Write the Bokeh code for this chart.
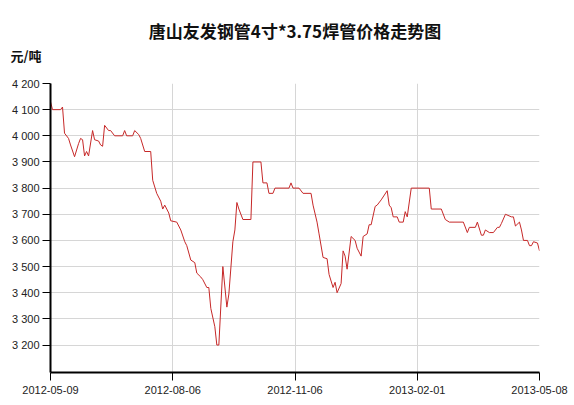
from bokeh.plotting import figure
from bokeh.models import Range1d, FixedTicker, Title
from bokeh.embed import file_html
from bokeh.resources import INLINE

# ---- data ----
day_index = [0,1,5,6,7,9,10,12,14,15,
             16,17,18,19,21,22,24,25,26,27,
             29,30,32,36,37,38,41,42,44,45,
             47,50,51,53,55,56,57,59,60,63,
             65,67,68,70,72,73,75,76,78,79,
             80,82,83,84,86,88,89,91,92,93,
             94,96,100,101,105,106,108,109,111,112,
             119,120,121,124,126,130,131,133,134,136,
             138,139,141,142,143,145,146,147,148,150,
             152,153,155,156,158,159,160,162,163,165,
             168,169,170,171,173,174,176,177,178,180,
             189,190,195,197,199,206,208,209,212,213,
             215,216,217,219,221,223,224,225,227,230,
             231,232,234,235,236,238,239,240,241,243,
             244]
price = [4130,4100,4100,4110,4010,3990,3965,3920,3970,3990,
         3985,3923,3940,3923,4020,3985,3980,3965,3960,4040,
         4020,4020,4000,4000,4020,4000,4000,4020,4005,3990,
         3940,3940,3830,3780,3750,3720,3735,3705,3675,3670,
         3640,3595,3580,3525,3515,3475,3460,3450,3420,3420,
         3340,3270,3200,3200,3500,3345,3395,3595,3640,3745,
         3720,3680,3680,3900,3900,3820,3820,3780,3780,3800,
         3800,3820,3800,3800,3780,3780,3735,3670,3625,3535,
         3530,3470,3420,3440,3400,3435,3560,3540,3490,3615,
         3600,3570,3540,3615,3625,3660,3660,3730,3735,3755,
         3790,3735,3725,3690,3690,3670,3670,3710,3690,3800,
         3800,3720,3720,3680,3670,3670,3630,3650,3650,3670,
         3620,3620,3640,3630,3630,3650,3650,3665,3700,3690,
         3690,3655,3670,3640,3600,3600,3580,3580,3595,3590,
         3560]

x_tick_pos = [0, 61, 122, 183, 244]
x_tick_labels = ["2012-05-09", "2012-08-06", "2012-11-06", "2013-02-01", "2013-05-08"]
y_ticks = [3200, 3300, 3400, 3500, 3600, 3700, 3800, 3900, 4000, 4100, 4200]
y_tick_labels = ["3 200", "3 300", "3 400", "3 500", "3 600", "3 700",
                 "3 800", "3 900", "4 000", "4 100", "4 200"]

title_text = "唐山友发钢管4寸*3.75焊管价格走势图"
unit_text = "元/吨"

p = figure(width=574, height=405, output_backend="svg", toolbar_location=None,
           x_range=Range1d(0, 244), y_range=Range1d(3095, 4200),
           min_border_left=50, min_border_right=35, min_border_bottom=33, min_border_top=0,
           title=None)
p.background_fill_color = "white"
p.border_fill_color = "white"
p.outline_line_color = None

# panels stacked outward from the plot frame
p.add_layout(Title(text=" ", text_font_size="9px", standoff=6), "above")
p.add_layout(Title(text=unit_text, align="left", text_font="Noto Sans CJK SC",
                   text_font_size="13px", text_font_style="bold", text_color="#111111",
                   offset=-40, standoff=2), "above")
p.add_layout(Title(text=title_text, align="center", text_font="Noto Sans CJK SC",
                   text_font_size="17px", text_font_style="bold", text_color="#111111",
                   standoff=0), "above")
p.add_layout(Title(text=" ", text_font_size="9px", standoff=3), "above")

p.line(day_index, price, line_color="#c62828", line_width=1)

for ax in (p.xaxis[0], p.yaxis[0]):
    ax.axis_line_color = "black"
    ax.axis_line_width = 2
    ax.major_tick_line_color = "black"
    ax.major_tick_line_width = 1
    ax.major_tick_out = 8
    ax.major_tick_in = 0
    ax.minor_tick_line_color = None
    ax.major_label_text_font = "Liberation Sans"
    ax.major_label_text_font_size = "11px"
    ax.major_label_text_color = "#222222"

p.xaxis.ticker = FixedTicker(ticks=x_tick_pos)
p.xaxis.major_label_overrides = dict(zip(x_tick_pos, x_tick_labels))
p.xaxis.major_label_standoff = 5
p.yaxis.ticker = FixedTicker(ticks=y_ticks)
p.yaxis.major_label_overrides = dict(zip(y_ticks, y_tick_labels))
p.yaxis.major_label_standoff = 3

p.xgrid.ticker = FixedTicker(ticks=x_tick_pos)
p.ygrid.ticker = FixedTicker(ticks=y_ticks)
p.grid.grid_line_color = "#d6d6d6"
p.grid.grid_line_width = 1

open("out.html", "w").write(file_html(p, INLINE))
